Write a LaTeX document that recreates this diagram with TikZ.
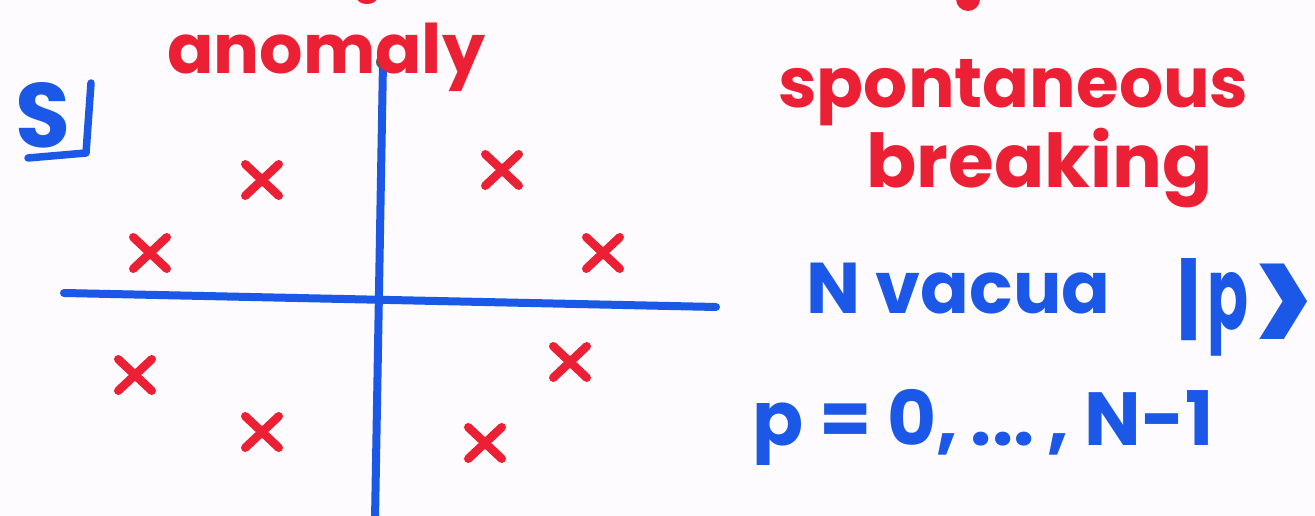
\documentclass[tikz,border=0pt]{standalone}
\usepackage{fontspec}
\setmainfont{Poppins}
\usetikzlibrary{shapes.misc}
\definecolor{mred}{RGB}{236,32,52}
\definecolor{mblue}{RGB}{28,88,232}
\definecolor{board}{RGB}{253,251,253}
\newcommand\fitw[2]{\resizebox{#1}{!}{#2}}
\begin{document}
\begin{tikzpicture}[x=0.02cm,y=-0.02cm,
  axis/.style={draw=mblue,line width=0.16cm,line cap=round},
  vx/.style={cross out,draw=mred,line width=0.17cm,line cap=round,minimum width=0.5cm,minimum height=0.46cm,inner sep=0pt},
  rtext/.style={text=mred,inner sep=0pt,font=\bfseries},
  btext/.style={text=mblue,inner sep=0pt,font=\bfseries},
  bstroke/.style={draw=mblue,line width=0.15cm,line cap=round,line join=round}]
\fill[board] (0,0) rectangle (1315,516);
\useasboundingbox (0,0) rectangle (1315,516);
% cut-off marks at the top edge
\fill[mred] (367,-2) ellipse (10 and 6);
\fill[mred] (968,-1) ellipse (12 and 12);
% axes
\coordinate (vtop) at (383,62);
\coordinate (vbot) at (375,520);
\coordinate (hleft) at (64,293);
\coordinate (hright) at (716,307);
\draw[axis] (vtop) -- (vbot);
\draw[axis] (hleft) -- (hright);
\fill[gray!70!black] (vtop) circle (7);
% vacua crosses
\node[vx] (x1) at (262,180) {};
\node[vx] (x2) at (502,170) {};
\node[vx] (x3) at (150,253) {};
\node[vx] (x4) at (603,253) {};
\node[vx] (x5) at (135,375) {};
\node[vx] (x6) at (570,362) {};
\node[vx] (x7) at (262,432) {};
\node[vx] (x8) at (485,443) {};
% S^1 label
\node[btext,anchor=south west] (s1) at (15,148) {\resizebox{1.1cm}{1.3cm}{S}};
\coordinate (c1) at (91,83);
\coordinate (c2) at (86,153);
\coordinate (c3) at (28,158);
\draw[bstroke] (c1) -- (c2) -- (c3);
% red texts
\node[rtext,anchor=base west] (anom) at (167,74) {\fitw{6.36cm}{anomaly}};
\node[rtext,anchor=base west] (spon) at (778,108) {\fitw{9.4cm}{spontaneous}};
\node[rtext,anchor=base west] (brk) at (866,188) {\fitw{6.92cm}{breaking}};
% blue texts
\node[btext,anchor=base west] (nvac) at (806,314) {\fitw{6.08cm}{N vacua}};
\node[btext,anchor=north west] (ketl) at (1176,258) {\resizebox{0.5cm}{1.42cm}{|}};
\node[btext,anchor=north west] (ketp) at (1207,272) {\resizebox{0.82cm}{1.14cm}{p}};
\node[btext,anchor=south west] (ketr) at (1252,362) {\resizebox{1.24cm}{1.95cm}{>}};
\node[btext,anchor=base west] (prange) at (752,446) {\fitw{9.22cm}{p = 0,\,...\,, N-1}};
\end{tikzpicture}
\end{document}
